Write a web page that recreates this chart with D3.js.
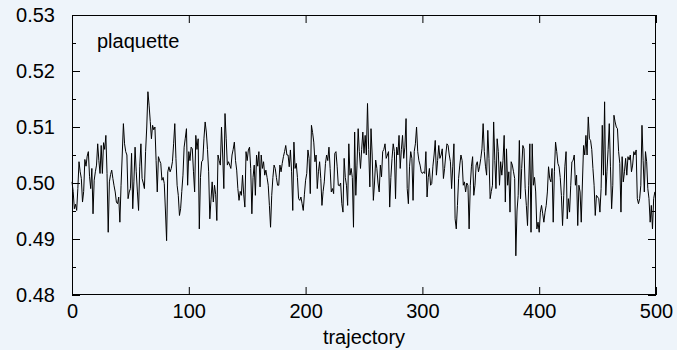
<!DOCTYPE html>
<html>
<head>
<meta charset="utf-8">
<script src="https://cdn.jsdelivr.net/npm/d3@7"></script>
<style>
  html, body { margin: 0; padding: 0; background: #eef4fa; }
  svg { display: block; }
  text { font-family: "Liberation Sans", Arial, Helvetica, sans-serif; fill: #000; }
</style>
</head>
<body>
<div id="chart"></div>
<script>
// plaquette value per trajectory (t = 0..500)
const plaquette = [
  0.5002, 0.4985, 0.4954, 0.4962, 0.4951, 0.4990, 0.5038, 0.5020, 0.5008, 0.4966,
  0.4985, 0.5042, 0.5030, 0.5048, 0.5056, 0.5012, 0.4990, 0.5026, 0.4945, 0.5005,
  0.5020, 0.5032, 0.5070, 0.5040, 0.5017, 0.5067, 0.5017, 0.5072, 0.5060, 0.5085,
  0.5017, 0.4912, 0.5002, 0.5015, 0.5023, 0.5008, 0.4995, 0.4984, 0.4966, 0.4963,
  0.4975, 0.4930, 0.4996, 0.5050, 0.5106, 0.5070, 0.5056, 0.5050, 0.4972, 0.4984,
  0.4990, 0.5053, 0.4954, 0.5002, 0.5064, 0.5020, 0.4984, 0.4951, 0.5030, 0.5070,
  0.5008, 0.5000, 0.4990, 0.5056, 0.5100, 0.5163, 0.5139, 0.5110, 0.5079, 0.5103,
  0.5095, 0.5100, 0.5040, 0.4984, 0.5047, 0.5040, 0.5035, 0.5005, 0.5010, 0.4999,
  0.4950, 0.4897, 0.5020, 0.5029, 0.5020, 0.5026, 0.5038, 0.5070, 0.5106, 0.5044,
  0.4996, 0.4978, 0.4942, 0.4954, 0.4985, 0.5014, 0.5064, 0.5080, 0.5097, 0.4996,
  0.5056, 0.5040, 0.5064, 0.5061, 0.5020, 0.4984, 0.5085, 0.5060, 0.5079, 0.4918,
  0.5010, 0.5038, 0.5041, 0.5080, 0.5109, 0.5091, 0.5060, 0.5020, 0.4936, 0.4970,
  0.5002, 0.4966, 0.4996, 0.4980, 0.4933, 0.5050, 0.5040, 0.5032, 0.5100, 0.5050,
  0.4990, 0.5124, 0.5080, 0.5032, 0.5038, 0.5032, 0.5026, 0.5050, 0.5060, 0.5073,
  0.5040, 0.5023, 0.4990, 0.4969, 0.4985, 0.4978, 0.5014, 0.4980, 0.4957, 0.5056,
  0.5040, 0.5059, 0.5064, 0.5026, 0.4945, 0.5010, 0.5032, 0.4978, 0.5050, 0.5030,
  0.5056, 0.4993, 0.5050, 0.5026, 0.5038, 0.5014, 0.5023, 0.5010, 0.4996, 0.4960,
  0.4921, 0.4978, 0.5010, 0.5032, 0.5026, 0.5010, 0.4996, 0.4996, 0.5032, 0.5020,
  0.5035, 0.5047, 0.5056, 0.5067, 0.5050, 0.5050, 0.5029, 0.5059, 0.5020, 0.4951,
  0.5073, 0.5026, 0.5035, 0.5010, 0.4972, 0.4969, 0.4975, 0.4963, 0.4951, 0.4980,
  0.5005, 0.5017, 0.5059, 0.5044, 0.4981, 0.5103, 0.5090, 0.5073, 0.5038, 0.5050,
  0.4990, 0.5020, 0.5038, 0.5008, 0.4960, 0.4985, 0.5002, 0.5035, 0.5050, 0.5040,
  0.5064, 0.5026, 0.4984, 0.4990, 0.4981, 0.5053, 0.5056, 0.5030, 0.4996, 0.4995,
  0.5000, 0.4963, 0.4948, 0.5044, 0.5010, 0.4996, 0.4960, 0.5070, 0.5014, 0.5026,
  0.5010, 0.4921, 0.5091, 0.4978, 0.5032, 0.5097, 0.5056, 0.5026, 0.5060, 0.5091,
  0.5053, 0.5085, 0.5050, 0.5142, 0.5060, 0.4993, 0.5097, 0.5050, 0.4969, 0.5000,
  0.5041, 0.5026, 0.5000, 0.4984, 0.5032, 0.5011, 0.5056, 0.5060, 0.5070, 0.5044,
  0.5050, 0.5056, 0.4957, 0.5010, 0.5044, 0.5070, 0.5056, 0.4972, 0.5064, 0.5050,
  0.5085, 0.5026, 0.5060, 0.5085, 0.5044, 0.5064, 0.5115, 0.4990, 0.4963, 0.5030,
  0.5056, 0.5044, 0.4969, 0.5056, 0.5070, 0.5100, 0.5056, 0.5040, 0.5032, 0.5020,
  0.5017, 0.5020, 0.5017, 0.5056, 0.4975, 0.5010, 0.5026, 0.4996, 0.4999, 0.5030,
  0.5050, 0.5076, 0.5014, 0.5040, 0.5067, 0.5044, 0.5050, 0.5061, 0.5008, 0.5026,
  0.5050, 0.5070, 0.5067, 0.5050, 0.5038, 0.4990, 0.5030, 0.5070, 0.4936, 0.4918,
  0.4960, 0.5008, 0.5032, 0.5050, 0.5040, 0.4996, 0.5002, 0.4984, 0.5000, 0.4996,
  0.4918, 0.4996, 0.5030, 0.5047, 0.4978, 0.4996, 0.5032, 0.5038, 0.5020, 0.5030,
  0.5044, 0.5061, 0.5106, 0.5056, 0.5030, 0.5014, 0.5094, 0.5044, 0.4972, 0.4985,
  0.4996, 0.5109, 0.5040, 0.4990, 0.5079, 0.5056, 0.4996, 0.5038, 0.5014, 0.5040,
  0.5085, 0.4966, 0.5061, 0.4996, 0.5020, 0.4948, 0.5038, 0.5032, 0.5020, 0.5008,
  0.4870, 0.4950, 0.4978, 0.5076, 0.4972, 0.5026, 0.5067, 0.5061, 0.4990, 0.4960,
  0.4924, 0.4996, 0.5070, 0.4912, 0.5070, 0.4996, 0.5010, 0.4984, 0.4918, 0.4930,
  0.4912, 0.4948, 0.4960, 0.4945, 0.4930, 0.4948, 0.4960, 0.4984, 0.5029, 0.5008,
  0.5002, 0.5026, 0.4930, 0.5020, 0.5073, 0.5056, 0.5035, 0.5029, 0.5010, 0.4978,
  0.4924, 0.4978, 0.5030, 0.5056, 0.4936, 0.4972, 0.4948, 0.4996, 0.5038, 0.5040,
  0.5050, 0.4996, 0.5014, 0.4924, 0.4996, 0.4984, 0.4930, 0.5000, 0.5067, 0.5050,
  0.5085, 0.5050, 0.5118, 0.5079, 0.5076, 0.5060, 0.5026, 0.4996, 0.4942, 0.4978,
  0.4975, 0.4972, 0.4948, 0.4990, 0.5103, 0.5014, 0.5145, 0.4978, 0.5020, 0.5060,
  0.5106, 0.5030, 0.4954, 0.4996, 0.5121, 0.5109, 0.5100, 0.5097, 0.5056, 0.5035,
  0.4948, 0.5047, 0.5002, 0.5020, 0.5044, 0.5014, 0.5047, 0.5041, 0.5050, 0.5020,
  0.5032, 0.5056, 0.5050, 0.5059, 0.4972, 0.4963, 0.4972, 0.4996, 0.5103, 0.5040,
  0.4984, 0.5056, 0.5038, 0.4990, 0.4972, 0.4930, 0.4960, 0.4918, 0.4972, 0.4984,
  0.4985
];

const xTicks = [0, 100, 200, 300, 400, 500];
const yTicks = [0.48, 0.49, 0.50, 0.51, 0.52, 0.53];
const yMinorTicks = [0.485, 0.495, 0.505, 0.515, 0.525];
const seriesLabel = 'plaquette';
const xLabel = 'trajectory';

const width = 677, height = 350;
const margin = { left: 72, right: 656, top: 15, bottom: 295 };

const svg = d3.select('#chart').append('svg')
  .attr('width', width)
  .attr('height', height);

svg.append('rect')
  .attr('width', width).attr('height', height)
  .attr('fill', '#eef4fa');

const x = d3.scaleLinear().domain([0, 500]).range([margin.left, margin.right]);
const y = d3.scaleLinear().domain([0.48, 0.53]).range([margin.bottom, margin.top]);

const fontSize = 20;

function styleAxis(g) {
  g.select('.domain').remove();
  g.selectAll('line').attr('stroke', '#000').attr('stroke-width', 1);
  g.selectAll('text')
    .attr('font-size', fontSize)
    .attr('font-family', '"Liberation Sans", Arial, Helvetica, sans-serif');
}

// major axes (ticks point inward)
svg.append('g')
  .attr('transform', `translate(0,${margin.bottom})`)
  .call(d3.axisBottom(x).tickValues(xTicks).tickSize(-8).tickPadding(9).tickFormat(d3.format('d')))
  .call(styleAxis);

svg.append('g')
  .attr('transform', `translate(0,${margin.top})`)
  .call(d3.axisTop(x).tickValues(xTicks).tickSize(-8).tickFormat(''))
  .call(styleAxis);

svg.append('g')
  .attr('transform', `translate(${margin.left},0)`)
  .call(d3.axisLeft(y).tickValues(yTicks).tickSize(-8).tickPadding(17).tickFormat(d3.format('.2f')))
  .call(styleAxis);

svg.append('g')
  .attr('transform', `translate(${margin.right},0)`)
  .call(d3.axisRight(y).tickValues(yTicks).tickSize(-8).tickFormat(''))
  .call(styleAxis);

// minor y ticks
svg.append('g')
  .attr('transform', `translate(${margin.left},0)`)
  .call(d3.axisLeft(y).tickValues(yMinorTicks).tickSize(-4).tickFormat(''))
  .call(styleAxis);

svg.append('g')
  .attr('transform', `translate(${margin.right},0)`)
  .call(d3.axisRight(y).tickValues(yMinorTicks).tickSize(-4).tickFormat(''))
  .call(styleAxis);

// the series
const line = d3.line()
  .x((d, i) => x(i))
  .y(d => y(d));

svg.append('path')
  .datum(plaquette)
  .attr('fill', 'none')
  .attr('stroke', '#000')
  .attr('stroke-width', 1)
  .attr('d', line);

// frame
svg.append('rect')
  .attr('x', margin.left + 0.5).attr('y', margin.top + 0.5)
  .attr('width', margin.right - margin.left - 1).attr('height', margin.bottom - margin.top - 1)
  .attr('fill', 'none')
  .attr('stroke', '#000')
  .attr('stroke-width', 1);

svg.append('text')
  .attr('x', 97).attr('y', 48)
  .attr('font-size', fontSize)
  .text(seriesLabel);

svg.append('text')
  .attr('x', (margin.left + margin.right) / 2).attr('y', 344)
  .attr('text-anchor', 'middle')
  .attr('font-size', fontSize)
  .text(xLabel);
</script>
</body>
</html>
